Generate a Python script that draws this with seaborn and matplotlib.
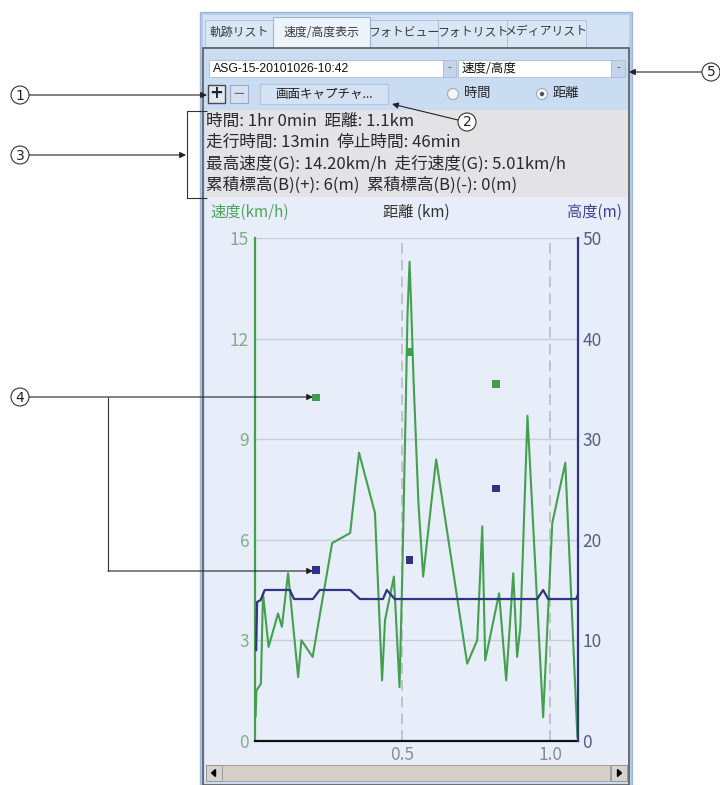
import matplotlib
matplotlib.use("Agg")
import matplotlib.pyplot as plt
import seaborn as sns
import pandas as pd
from matplotlib.patches import Rectangle, Circle, Polygon

# ---------------- data ----------------
dist_km = [0.003, 0.006, 0.021, 0.028, 0.047, 0.079, 0.092, 0.113, 0.147, 0.158,
           0.196, 0.262, 0.323, 0.353, 0.407, 0.431, 0.441, 0.471, 0.490, 0.499,
           0.510, 0.517, 0.524, 0.529, 0.537, 0.554, 0.570, 0.614, 0.719, 0.753,
           0.770, 0.780, 0.827, 0.851, 0.875, 0.888, 0.899, 0.923, 0.976, 1.007,
           1.051, 1.092]
speed_kmh = [0.7, 1.5, 1.7, 4.4, 2.8, 3.8, 3.4, 5.0, 1.9, 3.0,
             2.5, 5.9, 6.2, 8.6, 6.8, 1.8, 3.6, 4.9, 1.6, 4.8,
             9.5, 12.7, 14.3, 13.1, 10.9, 7.1, 4.9, 8.4, 2.3, 3.0,
             6.4, 2.4, 4.4, 1.8, 5.0, 2.5, 3.4, 9.7, 0.7, 6.5,
             8.3, 0.1]
alt_dist_km = [0.005, 0.008, 0.020, 0.034, 0.119, 0.133, 0.197, 0.220, 0.323,
               0.356, 0.434, 0.447, 0.474, 0.956, 0.976, 0.993, 1.087, 1.095]
alt_m = [9.0, 13.8, 14.0, 15.0, 15.0, 14.1, 14.1, 15.0, 15.0,
         14.1, 14.1, 15.0, 14.1, 14.1, 15.0, 14.1, 14.1, 14.6]
mark_dist_km = [0.207, 0.524, 0.816]
mark_speed = [10.25, 11.61, 10.65]
mark_alt = [17.0, 18.0, 25.1]

speed_ticks = [0, 3, 6, 9, 12, 15]
alt_ticks = [0, 10, 20, 30, 40, 50]
dist_ticks = [0.5, 1.0]
dist_tick_labels = ["0.5", "1.0"]

tabs = ["軌跡リスト", "速度/高度表示", "フォトビュー", "フォトリスト", "メディアリスト"]
track_name = "ASG-15-20101026-10:42"
graph_kind = "速度/高度"
capture_label = "画面キャプチャ..."
radio_labels = ["時間", "距離"]
info_lines = ["時間: 1hr 0min  距離: 1.1km",
              "走行時間: 13min  停止時間: 46min",
              "最高速度(G): 14.20km/h  走行速度(G): 5.01km/h",
              "累積標高(B)(+): 6(m)  累積標高(B)(-): 0(m)"]
speed_label = "速度(km/h)"
dist_label = "距離 (km)"
alt_label = "高度(m)"

# ---------------- style ----------------
sns.set_theme(style="white")
JP = ["Noto Sans CJK JP", "DejaVu Sans"]
NARROW = ["Liberation Sans Narrow", "Noto Sans CJK JP", "DejaVu Sans"]
plt.rcParams["font.family"] = JP

GREEN = "#43a04f"
NAVY = "#2f3585"
CHART_BG = "#e8eef9"
CTRL_BG = "#c9dcf1"
FRAME = "#b7cde8"

W, H = 720, 785
fig = plt.figure(figsize=(W / 100, H / 100), dpi=100)
fig.patch.set_facecolor("white")

# background UI layer (pixel coordinates, y down)
bg = fig.add_axes([0, 0, 1, 1], zorder=0)
bg.set_xlim(0, W)
bg.set_ylim(H, 0)
bg.axis("off")


def rect(ax, x0, y0, x1, y1, fc, ec="none", lw=0.8, z=1):
    ax.add_patch(Rectangle((x0, y0), x1 - x0, y1 - y0, facecolor=fc,
                           edgecolor=ec, linewidth=lw, zorder=z))

# outer window frame
rect(bg, 200, 12, 632, 785, FRAME, "#9db8d9", 1.0)
rect(bg, 203, 15, 629, 785, "#d3e2f4")
# tabs
tab_edges = [205, 273, 370, 438, 507, 586]
for i, t in enumerate(tabs):
    x0, x1 = tab_edges[i], tab_edges[i + 1]
    if i == 1:
        rect(bg, x0, 17, x1, 48, "#eef4fb", "#9fb6d2", 0.8, z=2)
    else:
        rect(bg, x0, 20, x1, 47, "#d8e6f6", "#a9bfdb", 0.6, z=1.5)
    bg.text((x0 + x1) / 2, 32, t, ha="center", va="center", fontsize=8.6,
            color="#3a3a3a", family=JP, zorder=3)
# content box
rect(bg, 203, 48, 629, 785, CTRL_BG, "#5a5a5a", 1.2, z=2)
# combo boxes
rect(bg, 209, 60, 443, 77, "white", "#a9bcd4", 0.6, z=3)
rect(bg, 443, 60, 456, 77, "#c2d5ec", "#a9bcd4", 0.6, z=3)
bg.text(213, 68.5, track_name, ha="left", va="center", fontsize=8.8,
        family=["Liberation Sans", "DejaVu Sans"], color="#111111", zorder=4)
bg.text(449.5, 68, "-", ha="center", va="center", fontsize=8, color="#555555", zorder=4)
rect(bg, 458, 60, 611, 77, "white", "#a9bcd4", 0.6, z=3)
rect(bg, 611, 60, 625, 77, "#c2d5ec", "#a9bcd4", 0.6, z=3)
bg.text(462, 68.5, graph_kind, ha="left", va="center", fontsize=9,
        family=JP, color="#111111", zorder=4)
bg.text(618, 68, "-", ha="center", va="center", fontsize=8, color="#555555", zorder=4)
# buttons
rect(bg, 208, 85, 225, 103, "#dfe9f6", "#4a4a4a", 1.0, z=3)
bg.text(216.5, 93.5, "+", ha="center", va="center", fontsize=12, fontweight="bold",
        color="#222222", family=["DejaVu Sans"], zorder=4)
rect(bg, 230, 85, 248, 103, "#d5e1f1", "#9aaac2", 0.8, z=3)
bg.text(239, 93.5, "−", ha="center", va="center", fontsize=11,
        color="#6a6a6a", family=["DejaVu Sans"], zorder=4)
rect(bg, 260, 84, 388, 104, "#d4e2f4", "#b3c5dc", 0.8, z=3)
bg.text(324, 94, capture_label, ha="center", va="center", fontsize=9,
        color="#222222", family=JP, zorder=4)
# radio buttons
for cx, lab, sel in [(453, radio_labels[0], False), (542, radio_labels[1], True)]:
    bg.add_patch(Circle((cx, 94), 5.5, facecolor="#f3f6fa", edgecolor="#a0a8b4",
                        linewidth=0.8, zorder=4))
    if sel:
        bg.add_patch(Circle((cx, 94), 2.2, facecolor="#555555", edgecolor="none", zorder=5))
    bg.text(cx + 11, 94, lab, ha="left", va="center", fontsize=9.5,
            color="#222222", family=JP, zorder=4)
# info panel
rect(bg, 205, 110, 628, 197, "#e3e3e5", z=3)
for i, line in enumerate(info_lines):
    bg.text(206, 121.5 + i * 21.2, line, ha="left", va="center", fontsize=12,
            color="#2a2a2a", family=NARROW, zorder=4)
# chart background
rect(bg, 205, 197, 628, 764, CHART_BG, z=3)
bg.text(210, 212, speed_label, ha="left", va="center", fontsize=11,
        color="#4ea55a", family=NARROW, zorder=4)
bg.text(416, 212, dist_label, ha="center", va="center", fontsize=11,
        color="#333333", family=NARROW, zorder=4)
bg.text(622, 212, alt_label, ha="right", va="center", fontsize=11,
        color="#3c4190", family=NARROW, zorder=4)
# scrollbar
rect(bg, 205, 764, 628, 782, "#ecebe8", z=3)
rect(bg, 206, 765, 222, 781, "#d6d3cc", "#8a8a8a", 0.6, z=4)
rect(bg, 222, 765, 610, 781, "#d4d0c8", "#9a9a9a", 0.6, z=4)
rect(bg, 611, 765, 627, 781, "#d6d3cc", "#8a8a8a", 0.6, z=4)
bg.add_patch(Polygon([[211.5, 773], [215.5, 769.5], [215.5, 776.5]], color="black", zorder=5))
bg.add_patch(Polygon([[621.5, 773], [617.5, 769.5], [617.5, 776.5]], color="black", zorder=5))

# ---------------- chart ----------------
x0p, x1p, y0p, y1p = 254.7, 578.3, 238.3, 740.7
ax = fig.add_axes([x0p / W, 1 - y1p / H, (x1p - x0p) / W, (y1p - y0p) / H], zorder=2)
ax.set_facecolor("none")
df_speed = pd.DataFrame({"dist": dist_km, "speed": speed_kmh})
df_alt = pd.DataFrame({"dist": alt_dist_km, "alt": alt_m})
df_mark = pd.DataFrame({"dist": mark_dist_km, "speed": mark_speed, "alt": mark_alt})

ax.set_xlim(0, 1.095)
ax.set_ylim(0, 15)
for v in speed_ticks[1:]:
    ax.axhline(v, color="#c9cdd8", lw=1.0, zorder=0)
for v in dist_ticks:
    ax.axvline(v, color="#b4b6bc", lw=1.1, ls=(0, (7, 4)), zorder=0)

sns.lineplot(data=df_speed, x="dist", y="speed", ax=ax, color=GREEN, lw=1.5,
             estimator=None, sort=False, zorder=3)
sns.scatterplot(data=df_mark, x="dist", y="speed", ax=ax, color="#3f9e4c",
                marker="s", s=30, edgecolor="none", zorder=4)

ax2 = ax.twinx()
ax2.set_ylim(0, 50)
sns.lineplot(data=df_alt, x="dist", y="alt", ax=ax2, color=NAVY, lw=1.6,
             estimator=None, sort=False, zorder=3)
sns.scatterplot(data=df_mark, x="dist", y="alt", ax=ax2, color="#2d3486",
                marker="s", s=30, edgecolor="none", zorder=4)

ax.set_xticks(dist_ticks)
ax.set_xticklabels(dist_tick_labels)
ax.set_yticks(speed_ticks)
ax.set_yticklabels([str(v) for v in speed_ticks])
ax2.set_yticks(alt_ticks)
ax2.set_yticklabels([str(v) for v in alt_ticks])
ax.set_xlabel("")
ax.set_ylabel("")
ax2.set_ylabel("")
ax.tick_params(axis="x", length=0, pad=4, labelsize=12.5, labelcolor="#8c8c8c")
ax.tick_params(axis="y", length=0, pad=4, labelsize=12.5, labelcolor="#83ad86")
ax2.tick_params(axis="y", length=0, pad=3, labelsize=12.5, labelcolor="#565b88")
for lab in ax.get_xticklabels() + ax.get_yticklabels() + ax2.get_yticklabels():
    lab.set_family(NARROW)
ax.grid(False)
ax2.grid(False)
for a in (ax, ax2):
    a.spines["top"].set_visible(False)
ax.spines["left"].set_color(GREEN)
ax.spines["left"].set_linewidth(1.6)
ax.spines["right"].set_visible(False)
ax.spines["bottom"].set_color("#111111")
ax.spines["bottom"].set_linewidth(1.6)
ax2.spines["left"].set_visible(False)
ax2.spines["bottom"].set_visible(False)
ax2.spines["right"].set_color(NAVY)
ax2.spines["right"].set_linewidth(1.6)

# ---------------- callout annotations ----------------
ov = fig.add_axes([0, 0, 1, 1], zorder=10)
ov.set_facecolor("none")
ov.set_xlim(0, W)
ov.set_ylim(H, 0)
ov.axis("off")


def badge(x, y, n):
    ov.add_patch(Circle((x, y), 9, facecolor="white", edgecolor="#333333", lw=0.8, zorder=5))
    ov.text(x, y + 0.5, str(n), ha="center", va="center", fontsize=10,
            color="#222222", family=["DejaVu Sans"], zorder=6)


def arrow(x0, y0, x1, y1):
    ov.annotate("", xy=(x1, y1), xytext=(x0, y0),
                arrowprops=dict(arrowstyle="-|>", color="#222222", lw=0.8,
                                mutation_scale=9, shrinkA=0, shrinkB=0))


def seg(xs, ys):
    ov.plot(xs, ys, color="#333333", lw=0.8, solid_capstyle="butt")

badge(20, 95, 1)
arrow(29, 95, 207, 95)
badge(467, 122, 2)
arrow(458, 120, 392, 104)
badge(20, 155, 3)
arrow(29, 155, 186, 155)
seg([207, 187, 187, 207], [111, 111, 198, 198])
badge(20, 397, 4)
arrow(29, 397, 313, 397)
seg([108, 108], [397, 571])
arrow(108, 571, 313, 571)
badge(711, 72, 5)
arrow(702, 72, 629, 72)

fig.savefig("out.png", dpi=100, facecolor="white")
